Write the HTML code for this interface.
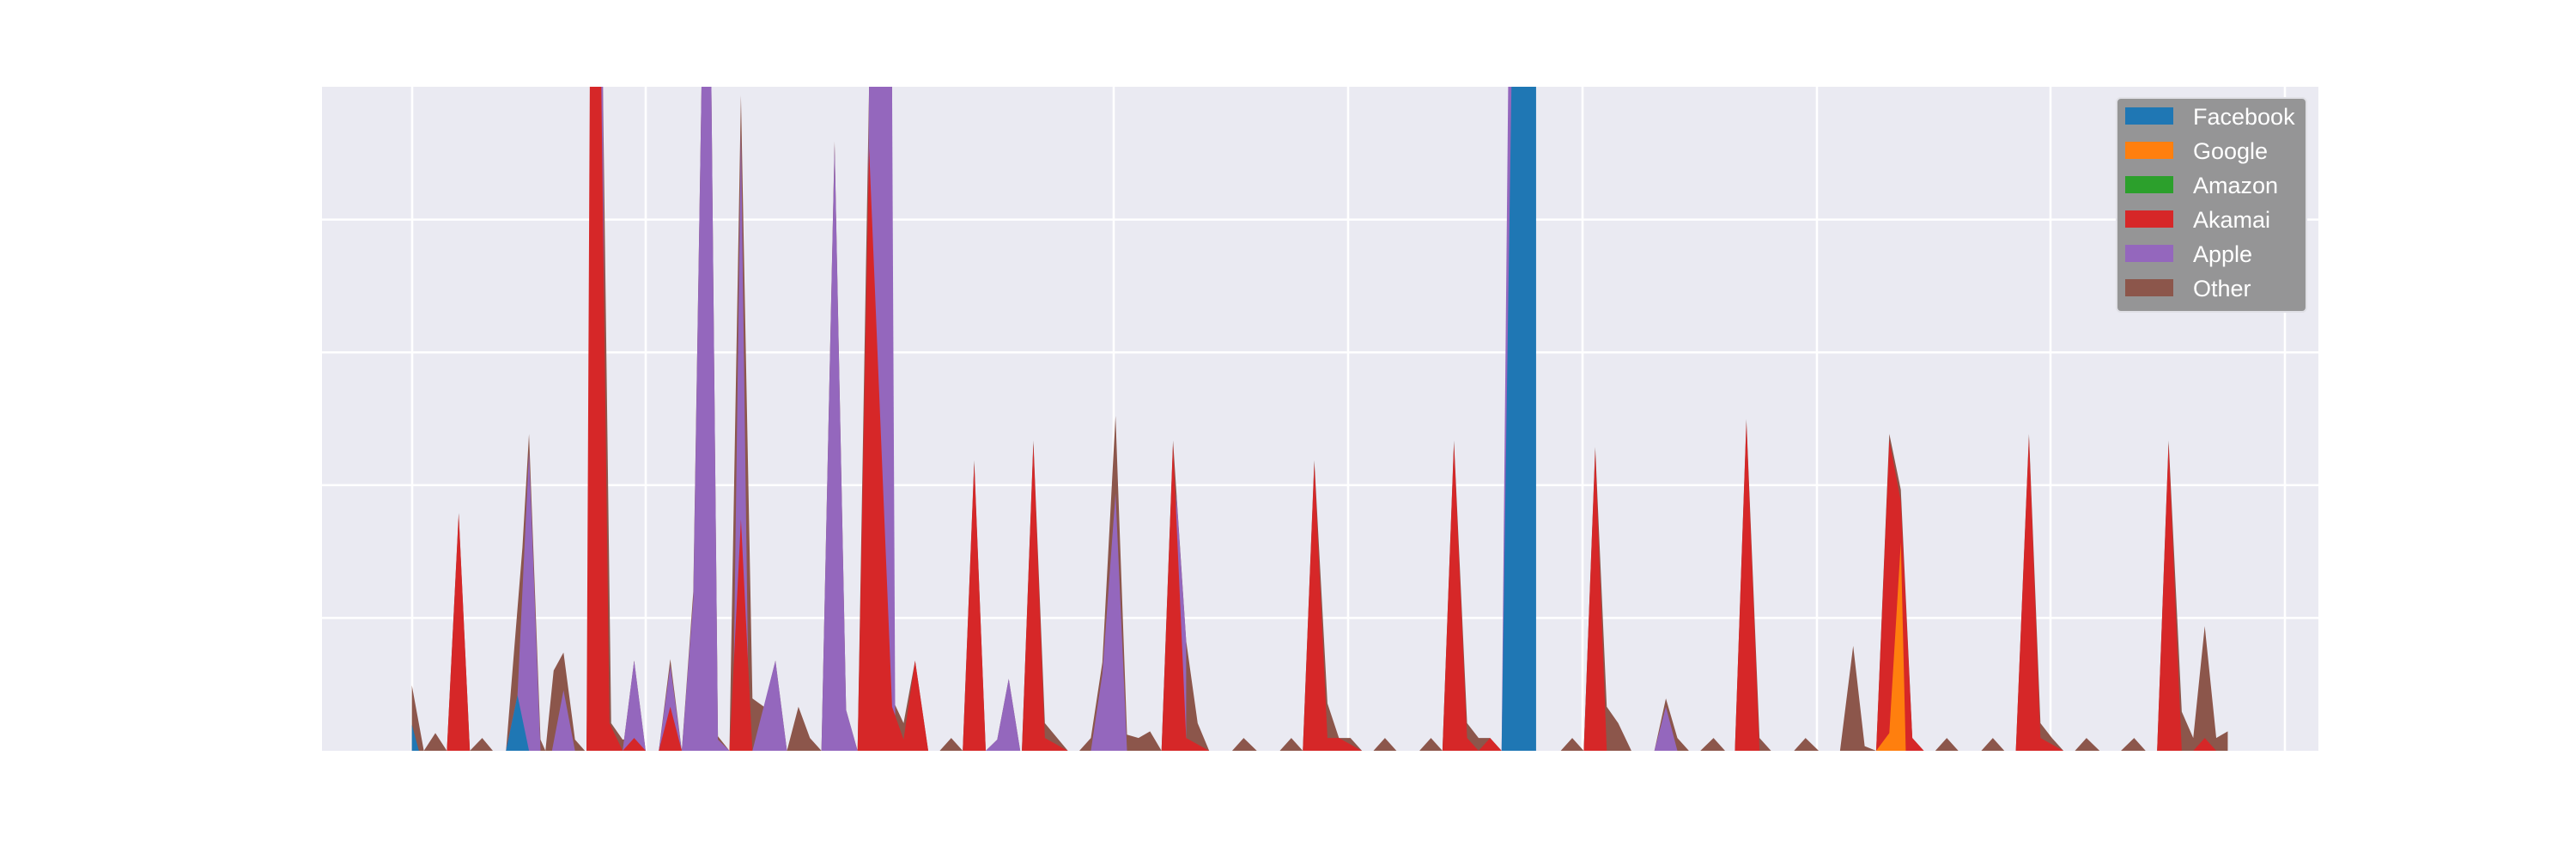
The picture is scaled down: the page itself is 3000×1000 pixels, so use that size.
<!DOCTYPE html>
<html><head><meta charset="utf-8"><style>
html,body{margin:0;padding:0;background:#fff;}
svg{display:block;}
</style></head><body>
<svg width="3000" height="1000" viewBox="0 0 3000 1000" xmlns="http://www.w3.org/2000/svg">
<rect x="375" y="101" width="2325" height="773" fill="#eaeaf2"/>
<g stroke="#ffffff" stroke-width="2.5">
<line x1="480" y1="101" x2="480" y2="874"/>
<line x1="752" y1="101" x2="752" y2="874"/>
<line x1="1025" y1="101" x2="1025" y2="874"/>
<line x1="1297" y1="101" x2="1297" y2="874"/>
<line x1="1570" y1="101" x2="1570" y2="874"/>
<line x1="1843" y1="101" x2="1843" y2="874"/>
<line x1="2116" y1="101" x2="2116" y2="874"/>
<line x1="2388" y1="101" x2="2388" y2="874"/>
<line x1="2661" y1="101" x2="2661" y2="874"/>
<line x1="375" y1="719.4" x2="2700" y2="719.4"/>
<line x1="375" y1="564.8" x2="2700" y2="564.8"/>
<line x1="375" y1="410.2" x2="2700" y2="410.2"/>
<line x1="375" y1="255.6" x2="2700" y2="255.6"/>
</g>
<g transform="scale(1.9133)">
<g fill="#8c564b">
<polygon points="250.7,456.8 250.7,417 258,456.8 265,446 272,456.8"/>
<polygon points="272,456.8 279.2,312 286,456.8 293.5,449 300,456.8"/>
<polygon points="308,456.8 318,333 322,264 329,450 332,456.8"/>
<polygon points="332,456.8 337,408 343,397 350,450 356,456.8"/>
<polygon points="357,456.8 362,52.8 367,52.8 372,440 379,450 386,449 393,456.8"/>
<polygon points="379,456.8 386,402 393,456.8"/>
<polygon points="401,456.8 408,401 415,456.8"/>
<polygon points="415,456.8 422,360 427,52.8 433,52.8 437,448 444,456.8"/>
<polygon points="444,456.8 451,58 458,425 465,430 472,402 479,456.8 486,430 493,449 500,456.8"/>
<polygon points="500,456.8 508,86 515,432 522,456.8"/>
<polygon points="522,456.8 529,52.8 543,52.8 543,425 550,440 557,402 565,456.8"/>
<polygon points="572,456.8 579,449 586,456.8 593,280 600,456.8 607,450 614,413 621,456.8"/>
<polygon points="622,456.8 629,268 636,440 650,456.8"/>
<polygon points="657,456.8 664,449 671,403 679,253 686,447 693,449 700,445 707,456.8"/>
<polygon points="707,456.8 714,268 722,390 729,440 736,456.8"/>
<polygon points="750,456.8 757,449 765,456.8"/>
<polygon points="779,456.8 786,449 793,456.8 800,280 808,428 815,449 822,449 829,456.8"/>
<polygon points="836,456.8 843,449 850,456.8"/>
<polygon points="864,456.8 871,449 878,456.8 885,268 893,440 900,449 907,449 914,456.8"/>
<polygon points="950,456.8 957,449 964,456.8 971,272 978,430 985,440 993,456.8"/>
<polygon points="1007,456.8 1014,425 1021,449 1028,456.8"/>
<polygon points="1035,456.8 1043,449 1050,456.8"/>
<polygon points="1056,456.8 1063,255 1071,449 1078,456.8"/>
<polygon points="1092,456.8 1099,449 1107,456.8"/>
<polygon points="1120,456.8 1128,393 1135,454 1142,456.8 1150,264 1157,298 1164,449 1171,456.8"/>
<polygon points="1178,456.8 1185,449 1192,456.8"/>
<polygon points="1206,456.8 1213,449 1220,456.8"/>
<polygon points="1227,456.8 1235,264 1242,440 1249,449 1256,456.8"/>
<polygon points="1263,456.8 1270,449 1278,456.8"/>
<polygon points="1291,456.8 1299,449 1306,456.8"/>
<polygon points="1313,456.8 1320,268 1328,433 1335,449 1342,381 1349,449 1356,445 1356,456.8"/>
</g>
<g fill="#9467bd">
<polygon points="308,456.8 315,423 322,275 329,456.8"/>
<polygon points="336,456.8 343,420 350,456.8"/>
<polygon points="361,456.8 364,52.8 367,52.8 369,456.8"/>
<polygon points="379,456.8 386,402 393,456.8"/>
<polygon points="401,456.8 408,405 415,456.8"/>
<polygon points="415,456.8 422,365 427,52.8 433,52.8 437,450 444,456.8"/>
<polygon points="446,456.8 451,80 456,456.8"/>
<polygon points="458,456.8 472,402 479,456.8"/>
<polygon points="500,456.8 508,88 515,432 522,456.8"/>
<polygon points="526,456.8 529,52.8 543,52.8 545,456.8"/>
<polygon points="600,456.8 607,450 614,413 621,456.8"/>
<polygon points="664,456.8 671,410 679,300 686,456.8"/>
<polygon points="714,456.8 716,300 722,390 722,449 729,456.8"/>
<polygon points="914,456.8 918,52.8 921,52.8 921,456.8"/>
<polygon points="1007,456.8 1014,430 1021,456.8"/>
</g>
<g fill="#d62728">
<polygon points="272,456.8 279.2,313 286,456.8"/>
<polygon points="357,456.8 359,52.8 366,52.8 371,440 379,456.8 386,449 393,456.8"/>
<polygon points="401,456.8 408,430 415,456.8"/>
<polygon points="444,456.8 451,316 458,456.8"/>
<polygon points="522,456.8 529,90 543,430 550,450 557,402 565,456.8"/>
<polygon points="586,456.8 593,282 600,456.8"/>
<polygon points="622,456.8 629,270 636,449 650,456.8"/>
<polygon points="707,456.8 714,270 722,449 736,456.8"/>
<polygon points="793,456.8 800,282 808,449 815,449 829,456.8"/>
<polygon points="878,456.8 885,270 893,449 900,456.8 907,449 914,456.8"/>
<polygon points="964,456.8 971,274 978,456.8"/>
<polygon points="1056,456.8 1063,257 1071,456.8"/>
<polygon points="1142,456.8 1150,268 1157,305 1164,449 1171,456.8"/>
<polygon points="1227,456.8 1235,266 1242,449 1256,456.8"/>
<polygon points="1313,456.8 1320,270 1328,456.8 1335,456.8 1342,449 1349,456.8"/>
</g>
<polygon fill="#ff7f0e" points="1142,456.8 1150,446 1157,330 1160,456.8"/>
<g fill="#1f77b4">
<polygon points="250.7,456.8 250.7,441 255,456.8"/>
<polygon points="308,456.8 315,423 322,456.8"/>
<polygon points="914,456.8 920,52.8 935,52.8 935,456.8"/>
</g>
</g>
<rect x="2465" y="114" width="221" height="249" rx="5" fill="#959596" stroke="#e0e0e6" stroke-width="2"/>
<rect x="2475" y="125" width="56" height="20" fill="#1f77b4"/>
<rect x="2475" y="165" width="56" height="20" fill="#ff7f0e"/>
<rect x="2475" y="205" width="56" height="20" fill="#2ca02c"/>
<rect x="2475" y="245" width="56" height="20" fill="#d62728"/>
<rect x="2475" y="285" width="56" height="20" fill="#9467bd"/>
<rect x="2475" y="325" width="56" height="20" fill="#8c564b"/>
<g font-family="Liberation Sans, sans-serif" font-size="27" fill="#ffffff">
<text x="2554" y="145">Facebook</text>
<text x="2554" y="185">Google</text>
<text x="2554" y="225">Amazon</text>
<text x="2554" y="265">Akamai</text>
<text x="2554" y="305">Apple</text>
<text x="2554" y="345">Other</text>
</g>
</svg>
</body></html>
